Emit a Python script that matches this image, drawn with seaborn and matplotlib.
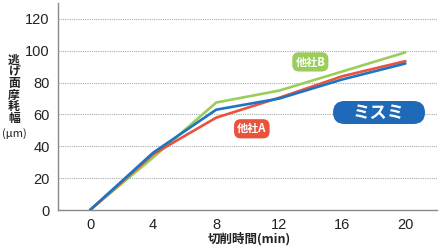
import matplotlib
matplotlib.use("Agg")
import matplotlib.pyplot as plt
from matplotlib.patches import FancyBboxPatch
from matplotlib.transforms import IdentityTransform
import seaborn as sns
import pandas as pd

times = [0, 4, 8, 12, 16, 20]
misumi = [0, 36, 63, 70, 82, 92]
other_a = [0, 35, 58, 70.5, 84, 93.5]
other_b = [0, 33, 67.5, 75, 87, 99]
series_names = ["ミスミ", "他社A", "他社B"]
colors = {"ミスミ": "#1f73c3", "他社A": "#e9533b", "他社B": "#9bcc5c"}
x_ticks = [0, 4, 8, 12, 16, 20]
y_ticks = [0, 20, 40, 60, 80, 100, 120]

sns.set_theme(style="white")
plt.rcParams['font.family'] = ['Noto Sans CJK JP', 'DejaVu Sans']

df = pd.DataFrame({
    "time": times * 3,
    "wear": misumi + other_a + other_b,
    "series": [series_names[0]] * 6 + [series_names[1]] * 6 + [series_names[2]] * 6,
})

W, H = 440, 250
fig = plt.figure(figsize=(4.4, 2.5), dpi=100)
ax = fig.add_axes([0.132, 0.16, 0.861, 0.828])

order = ["他社B", "他社A", "ミスミ"]
for name in order:
    sub = df[df["series"] == name]
    sns.lineplot(data=sub, x="time", y="wear", color=colors[name], lw=1.9, ax=ax, legend=False)

ax.set_xlim(-2.03, 22.0)
ax.set_ylim(0, 130)
ax.set_xticks(x_ticks)
ax.set_yticks(y_ticks)
ax.tick_params(axis='both', labelsize=10.5, colors='#222222', length=0, pad=6)
for lab in ax.get_xticklabels() + ax.get_yticklabels():
    lab.set_family(['Liberation Sans', 'DejaVu Sans'])
ax.set_xlabel("")
ax.set_ylabel("")
for y in y_ticks[1:]:
    ax.axhline(y, color="#aaaaaa", lw=0.8, ls=(0, (1, 1)), zorder=0)
for s in ["top", "right"]:
    ax.spines[s].set_visible(False)
ax.spines["left"].set_color("#888888")
ax.spines["bottom"].set_color("#888888")
ax.spines["left"].set_linewidth(1.0)
ax.spines["bottom"].set_linewidth(1.0)

# labels
ax.text(13.97, 93, "他社B", color="white", fontsize=8, fontweight="bold", ha="center", va="center",
        bbox=dict(boxstyle="round,pad=0.28,rounding_size=0.6", fc=colors["他社B"], ec="none"))
ax.text(10.26, 51, "他社A", color="white", fontsize=8, fontweight="bold", ha="center", va="center",
        bbox=dict(boxstyle="round,pad=0.28,rounding_size=0.6", fc=colors["他社A"], ec="none"))

# Misumi pill (pixel coordinates)
x0, x1, ytop, ybot = 333, 425, 101, 124
pill = FancyBboxPatch((x0, H - ybot), x1 - x0, ybot - ytop,
                      boxstyle="round,pad=0,rounding_size=11.5",
                      fc="#1e6ab8", ec="none", transform=IdentityTransform(), zorder=5)
fig.patches.append(pill)
fig.text((x0 + x1) / 2 / W, 1 - (ytop + ybot) / 2 / H, "ミスミ", color="white", fontsize=12.5,
         fontweight="bold", ha="center", va="center", zorder=6)

# y label stacked vertically
ylab_chars = ["逃", "げ", "面", "摩", "耗", "幅"]
for i, ch in enumerate(ylab_chars):
    fig.text(14 / W, 1 - (60 + i * 11.7) / H, ch, fontsize=8.5, fontweight="bold",
             ha="center", va="center", color="#222222")
fig.text(14 / W, 1 - 134 / H, "(μm)", fontsize=8, ha="center", va="center", color="#222222")

fig.text(249 / W, 1 - 239 / H, "切削時間(min)", fontsize=9, fontweight="bold",
         ha="center", va="center", color="#222222")

fig.savefig("out.png", dpi=100)
